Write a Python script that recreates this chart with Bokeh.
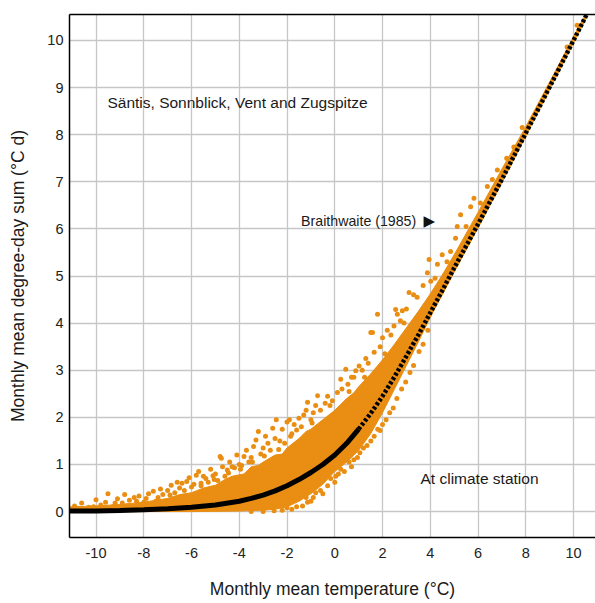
from bokeh.plotting import figure
from bokeh.models import Range1d, FixedTicker, LinearAxis, ColumnDataSource
from bokeh.core.properties import value
from bokeh.embed import file_html
from bokeh.resources import INLINE

# ---- data ----
# Braithwaite (1985) model curve
curve_t = [-11.1, -10, -9, -8, -7, -6, -5, -4, -3.5, -3, -2.5, -2, -1.5, -1, -0.5, 0,
           0.5, 1, 1.5, 2, 2.5, 3, 3.5, 4, 4.5, 5, 6, 7, 8, 9, 10, 10.56]
curve_v = [0.01, 0.015, 0.025, 0.04, 0.06, 0.09, 0.14, 0.22, 0.28, 0.35, 0.44, 0.55, 0.68, 0.83, 1.0, 1.2,
           1.45, 1.75, 2.08, 2.45, 2.86, 3.3, 3.75, 4.22, 4.69, 5.17, 6.1, 7.05, 8.03, 9.01, 10.0, 10.56]

# dense core of the station observations (upper edge left->right, lower edge right->left)
core_t = [-11.1, -10, -9, -8, -7, -6.5, -6, -5.5, -5, -4.6, -4.3, -3.8, -3.5, -3.2, -3, -2.5, -2.2, -2,
          -1.5, -1.2, -1, -0.5, 0, 0.5, 0.8, 1, 1.5, 2, 2.5, 3, 3.5, 4, 4.5, 5, 6, 7, 8, 9, 10, 10.56,
          10.56, 10, 9, 8, 7, 6, 5, 4.5, 4, 3.5, 3, 2.5, 2, 1.5, 1, 0.5, 0, -0.5, -1, -1.5, -2,
          -2.5, -3, -4, -6, -8, -11.1]
core_v = [0.1, 0.12, 0.15, 0.2, 0.28, 0.36, 0.4, 0.5, 0.56, 0.68, 0.75, 0.8, 0.95, 0.98, 1.05, 1.2, 1.22,
          1.35, 1.55, 1.7, 1.75, 1.95, 2.15, 2.4, 2.52, 2.65, 2.92, 3.22, 3.55, 3.9, 4.25, 4.62, 5.02, 5.45,
          6.35, 7.27, 8.17, 9.12, 10.08, 10.6,
          10.5, 9.95, 8.96, 7.97, 6.98, 6.02, 5.08, 4.6, 4.12, 3.6, 3.1, 2.6, 2.1, 1.65, 1.3, 1.05,
          0.85, 0.58, 0.38, 0.22, 0.1, 0.05, 0.03, 0.01, 0.0, 0.0, 0.0]

# scattered observations around the core
obs_t = [-10.9, -10.6, -10.3, -10.0, -9.8, -9.6, -9.5, -9.3, -9.1, -8.9, -8.8, -8.6, -8.4, -8.2, -8.0,
         -7.8, -7.6, -7.4, -7.2, -7.0, -6.85, -6.7, -6.5, -6.4, -6.2, -6.0, -5.8, -5.6, -5.4, -5.1,
         -4.9, -4.8, -4.75, -4.5, -4.2, -4.0, -3.8, -3.6, -3.4, -3.2, -3.1, -2.8, -2.6, -2.45, -2.3,
         -2.0, -1.8, -1.6, -1.5, -1.3, -1.14, -0.9, -0.72, -0.4, 0.11, 0.25, 0.46, 0.7, 0.88, 1.02,
         1.3, 1.51, 1.58, 1.65, 1.79, 2.0, 2.2, 2.48, 2.55, 2.62, 2.83, 3.11, 3.3, 3.88, 3.95, 4.02,
         4.5, 4.85, 5.06, 5.13, 5.27, 5.69, 5.83, 6.39, 6.81, 7.5, 7.85, 8.48, 9.73, 10.15,
         -10.7, -10.1, -9.7, -9.2, -8.7, -8.3, -7.9, -7.5, -7.3, -6.9, -6.6, -6.3, -6.1, -5.9, -5.7,
         -5.5, -5.3, -5.2, -5.0, -4.7, -4.6, -4.4, -4.3, -4.1, -3.9, -3.7, -3.5, -3.3, -3.0, -2.9,
         -2.7, -2.5, -2.2, -2.1, -1.9, -1.7, -1.4, -1.2, -1.0, -0.8, -0.6, -0.3, -0.1, 0.3, 0.55,
         0.8, 1.15, 1.4, 1.9, 2.35, 2.75, 3.0, 3.45, 3.7, 4.2, 4.3, 4.7, 5.5, 6.1, 6.6, 7.2,
         -2.54, -1.8, -1.35, -1.14, -0.9, -0.6, -0.17, 0.04, 0.25, 0.6, 0.95, 1.2, 1.51, 1.8, 2.0,
         2.3, 2.6, 2.97, 3.3, 3.53, 3.9,
         -3.5, -3.0, -2.2, -2.0, -1.6, -1.5, -1.2, -1.0, -0.8, -0.5, -0.3, 0.0, 0.15, 0.4, 0.7,
         0.8, 1.05, 1.35, 1.65, 1.9, 2.15, 2.45, 2.8, 3.15, 3.7,
         -5.6, -5.05, -4.45, -3.95, -3.45, -2.95, -2.35, -1.85, -0.95, -0.2, 0.6, 1.25, 2.1, 2.9]
obs_v = [0.12, 0.18, 0.09, 0.25, 0.14, 0.2, 0.38, 0.1, 0.27, 0.18, 0.36, 0.24, 0.3, 0.33, 0.2,
         0.38, 0.43, 0.3, 0.36, 0.45, 0.56, 0.4, 0.5, 0.6, 0.64, 0.52, 0.77, 0.6, 0.7, 0.76,
         0.66, 1.17, 1.13, 0.88, 0.93, 1.0, 1.17, 1.05, 1.38, 1.7, 1.22, 1.45, 1.77, 1.95, 1.5,
         1.9, 1.65, 1.73, 1.98, 2.05, 2.32, 2.1, 2.46, 2.3, 2.53, 2.81, 3.02, 2.85, 2.99, 3.09,
         3.25, 3.8, 3.8, 3.38, 4.19, 3.69, 3.85, 3.94, 4.29, 4.19, 4.26, 4.65, 4.6, 5.07, 5.35, 4.89,
         5.45, 5.52, 5.8, 6.05, 6.3, 6.47, 6.65, 6.9, 7.25, 7.74, 8.15, 8.52, 9.86, 10.32,
         0.05, 0.1, 0.08, 0.18, 0.12, 0.22, 0.28, 0.22, 0.48, 0.35, 0.62, 0.45, 0.72, 0.58, 0.85,
         0.75, 0.62, 0.9, 0.8, 0.95, 0.75, 1.05, 0.95, 1.2, 0.98, 1.3, 1.15, 1.52, 1.35, 1.6,
         1.3, 1.55, 1.75, 1.45, 1.95, 1.85, 1.8, 2.15, 1.95, 2.25, 2.15, 2.45, 2.35, 2.6, 2.7,
         2.85, 3.0, 3.15, 3.5, 3.75, 4.05, 4.3, 4.55, 4.8, 4.95, 5.25, 5.3, 6.05, 6.55, 7.05, 7.5,
         0.02, 0.05, 0.12, 0.2, 0.3, 0.45, 0.7, 0.75, 0.9, 1.05, 1.15, 1.35, 1.5, 1.75, 1.85,
         2.1, 2.4, 2.75, 3.1, 3.4, 3.85,
         0.0, 0.0, 0.03, 0.08, 0.1, 0.27, 0.3, 0.22, 0.4, 0.38, 0.55, 0.62, 0.8, 0.85, 0.95,
         1.1, 1.25, 1.4, 1.6, 1.72, 1.95, 2.2, 2.6, 2.95, 3.55,
         0.55, 0.68, 0.82, 0.9, 1.05, 1.18, 1.32, 1.6, 1.88, 2.25, 2.55, 2.85, 3.35, 4.0]

x_ticks = [-10, -8, -6, -4, -2, 0, 2, 4, 6, 8, 10]
y_ticks = [0, 1, 2, 3, 4, 5, 6, 7, 8, 9, 10]

notes = ["Säntis, Sonnblick, Vent and  Zugspitze", "Braithwaite (1985)", "At climate station"]
notes_t = [-9.52, -1.41, 3.59]
notes_v = [8.69, 6.16, 0.70]
notes_size = ["15.5px", "14.2px", "15.5px"]
arrow_t = [3.72]
arrow_v = [6.16]

ORANGE = "#E98E12"
FONT = "Liberation Sans"

p = figure(width=595, height=601, x_range=Range1d(-11.11, 10.92), y_range=Range1d(-0.55, 10.55),
           output_backend="svg", toolbar_location=None,
           min_border_left=69, min_border_top=14, min_border_right=0, min_border_bottom=62)
p.outline_line_color = None
p.background_fill_color = "white"
p.border_fill_color = "white"

p.xaxis.ticker = FixedTicker(ticks=x_ticks)
p.yaxis.ticker = FixedTicker(ticks=y_ticks)
p.xaxis.major_label_overrides = {t: str(t) for t in x_ticks}
p.yaxis.major_label_overrides = {t: str(t) for t in y_ticks}
p.xgrid.ticker = FixedTicker(ticks=x_ticks)
p.ygrid.ticker = FixedTicker(ticks=y_ticks)
p.grid.grid_line_color = "#c6c6c6"
p.grid.grid_line_width = 1.3

for ax in (p.xaxis, p.yaxis):
    ax.axis_line_color = "black"
    ax.axis_line_width = 1.5
    ax.major_tick_in = 0
    ax.major_tick_out = 0
    ax.minor_tick_in = 0
    ax.minor_tick_out = 0
    ax.major_label_text_font = FONT
    ax.major_label_text_font_size = "14.5px"
    ax.major_label_text_color = "#222222"
    ax.axis_label_text_font = FONT
    ax.axis_label_text_font_size = "17.5px"
    ax.axis_label_text_font_style = "normal"
    ax.axis_label_text_color = "#1a1a1a"

p.xaxis.axis_label = "Monthly mean temperature (°C)"
p.yaxis.axis_label = "Monthly mean degree-day sum (°C d)"
p.xaxis.major_label_standoff = 10
p.xaxis.axis_label_standoff = 18
p.yaxis.major_label_standoff = 6
p.yaxis.axis_label_standoff = 16

top = LinearAxis(ticker=FixedTicker(ticks=[]), axis_line_color="black", axis_line_width=1.5,
                 major_tick_in=0, major_tick_out=0, minor_tick_in=0, minor_tick_out=0)
p.add_layout(top, "above")

p.patch(core_t, core_v, fill_color=ORANGE, line_color=ORANGE, line_width=1)
p.scatter(obs_t, obs_v, size=5, fill_color=ORANGE, line_color=None)

split = curve_t.index(1)
p.line(curve_t[:split + 1], curve_v[:split + 1], line_color="black", line_width=5)
p.line(curve_t[split:], curve_v[split:], line_color="black", line_width=4.5, line_dash="3 2")

src = ColumnDataSource(dict(x=notes_t, y=notes_v, t=notes, s=notes_size))
p.text(x="x", y="y", text="t", source=src, text_font=value(FONT), text_font_size="s",
       text_color="#1a1a1a", text_baseline="middle", text_align="left")
p.text(x=arrow_t, y=arrow_v, text=["\u25B6"], text_font=value("DejaVu Sans"), text_font_size="15px",
       text_color="#111111", text_baseline="middle", text_align="left")

open("out.html", "w").write(file_html(p, INLINE))
